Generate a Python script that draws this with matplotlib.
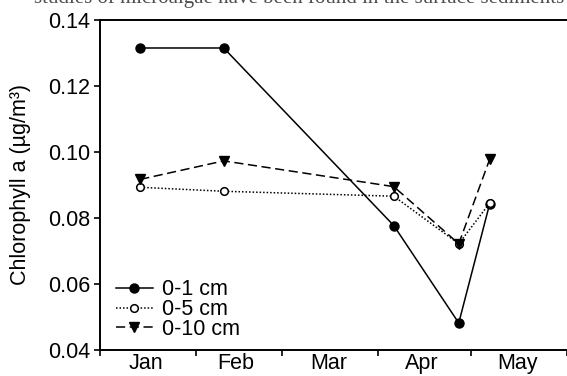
# Chlorophyll a by sediment depth, Jan-May
import numpy as np
import matplotlib.pyplot as plt
import matplotlib.dates as mdates
import pandas as pd

plt.rcParams['font.family'] = ['Liberation Sans', 'DejaVu Sans']

dates = pd.to_datetime(["2011-01-14", "2011-02-10", "2011-04-06", "2011-04-27", "2011-05-07"])
chl_0_1 = [0.1315, 0.1315, 0.0777, 0.0482, 0.0843]
chl_0_5 = [0.0893, 0.0881, 0.0866, 0.0722, 0.0845]
chl_0_10 = [0.0917, 0.0973, 0.0895, 0.0722, 0.0978]
month_labels = ["Jan", "Feb", "Mar", "Apr", "May"]

fs = 15.5

fig = plt.figure(figsize=(5.67, 3.76), dpi=100)
ax = fig.add_axes([0.1764, 0.069, 0.8236, 0.878])

ax.plot(dates, chl_0_1, color='black', lw=1.1, marker='o', ms=6.5,
        mfc='black', mec='black', label='0-1 cm', zorder=3)
ax.plot(dates, chl_0_5, color='black', lw=1.1, ls=(0, (1, 1.3)), marker='o', ms=5.5,
        mfc='white', mec='black', mew=1.1, label='0-5 cm', zorder=4)
ax.plot(dates, chl_0_10, color='black', lw=1.1, ls=(0, (6, 3)), marker='v', ms=6.5,
        mfc='black', mec='black', label='0-10 cm', zorder=5)

ax.set_xlim(pd.Timestamp("2011-01-01"), pd.Timestamp("2011-06-01"))
ax.set_ylim(0.04, 0.14)
ax.set_yticks([0.04, 0.06, 0.08, 0.10, 0.12, 0.14])
ax.yaxis.set_major_formatter(plt.FormatStrFormatter('%.2f'))

# month names centred, small ticks at month boundaries
mid = pd.to_datetime(["2011-01-16", "2011-02-14", "2011-03-16", "2011-04-15", "2011-05-16"])
ax.set_xticks(mid)
ax.set_xticklabels(month_labels)
ax.xaxis.set_minor_locator(mdates.MonthLocator())
ax.tick_params(axis='x', which='major', length=0, pad=2, labelsize=fs)
ax.tick_params(axis='x', which='minor', length=4, width=1.2, direction='out')
ax.tick_params(axis='y', length=4, width=1.2, labelsize=fs, pad=3)

for s in ['left', 'bottom', 'top']:
    ax.spines[s].set_linewidth(1.4)
ax.spines['right'].set_visible(False)

ax.set_ylabel("Chlorophyll a (µg/m³)", fontsize=fs, labelpad=12)

ax.legend(loc='lower left', bbox_to_anchor=(-0.005, -0.025), frameon=False, fontsize=fs,
          handlelength=1.7, handletextpad=0.45, labelspacing=-0.05, borderaxespad=0.45)

# cropped line of body text at the very top of the picture
fig.text(0.06, 1 - 3 / 376, "studies of microalgae have been found in the surface sediments",
         family='Liberation Serif', fontsize=15, color='0.3', va='baseline', ha='left')

fig.savefig("out.png", dpi=100)
